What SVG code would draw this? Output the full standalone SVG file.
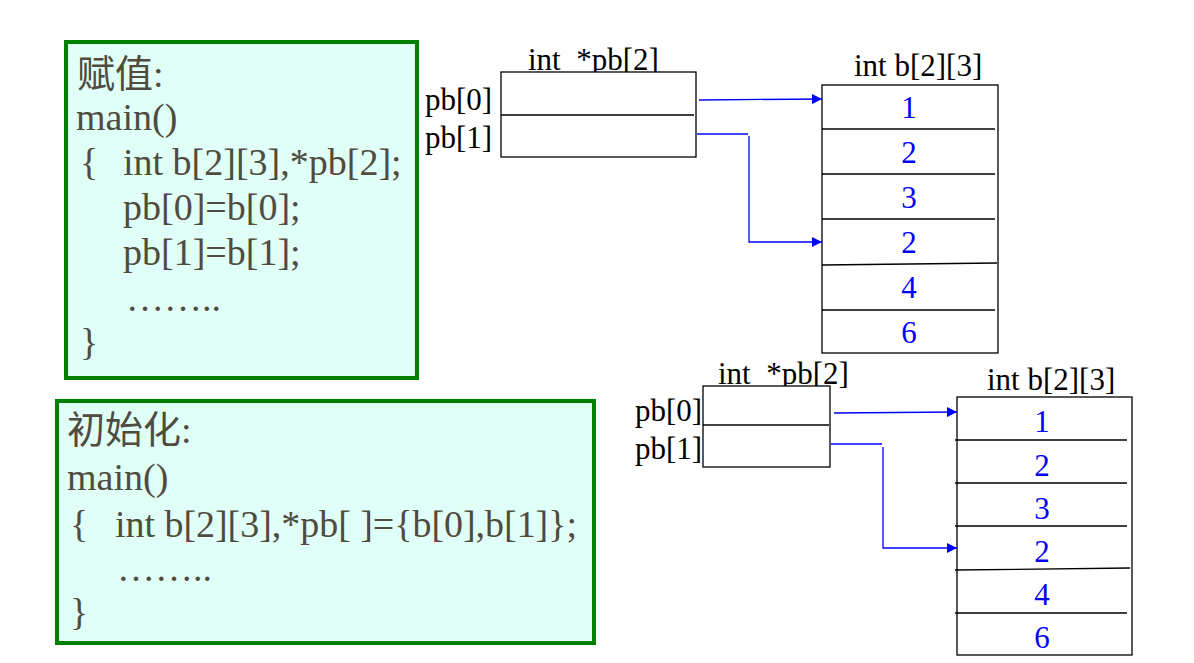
<svg xmlns="http://www.w3.org/2000/svg" width="1194" height="663" viewBox="0 0 1194 663">
<defs>
<style>
.code{font-family:"Liberation Serif","Noto Sans CJK SC",serif;font-size:38px;fill:#4F4B40}
.lbl{font-family:"Liberation Serif",serif;font-size:31px;fill:#000;white-space:pre}
.num{font-family:"Liberation Serif",serif;font-size:31px;fill:#0000FF;text-anchor:middle}
.gbox{fill:#E0FFF6;stroke:#008000;stroke-width:4}
.cell{fill:#fff;stroke:#000;stroke-width:1.3}
.ln{stroke:#000;stroke-width:1.3;fill:none}
.conn{stroke:#0000FF;stroke-width:1.3;fill:none}
</style>
<marker id="ah" viewBox="0 0 10 10" refX="10" refY="5" markerWidth="10" markerHeight="10" markerUnits="userSpaceOnUse" orient="auto">
<path d="M0,0 L10,5 L0,10 z" fill="#0000FF"/>
</marker>
</defs>
<rect width="1194" height="663" fill="#fff"/>

<g id="code-assign">
<rect class="gbox" x="66" y="42" width="351" height="336"/>
<text class="code" x="77" y="87">赋值:</text>
<text class="code" x="76" y="130">main()</text>
<text class="code" x="80" y="175">{</text>
<text class="code" x="123" y="175">int b[2][3],*pb[2];</text>
<text class="code" x="123" y="220">pb[0]=b[0];</text>
<text class="code" x="123" y="265">pb[1]=b[1];</text>
<text class="code" x="126" y="311">……..</text>
<text class="code" x="80" y="355">}</text>
</g>

<g id="code-init">
<rect class="gbox" x="57" y="401" width="537" height="242"/>
<text class="code" x="67" y="443">初始化:</text>
<text class="code" x="67" y="490">main()</text>
<text class="code" x="70" y="537">{</text>
<text class="code" x="115" y="537" textLength="462" lengthAdjust="spacing">int b[2][3],*pb[ ]={b[0],b[1]};</text>
<text class="code" x="117" y="581">……..</text>
<text class="code" x="70" y="625">}</text>
</g>

<g id="pb-top">
<text class="lbl" x="528" y="70" xml:space="preserve">int  *pb[2]</text>
<rect class="cell" x="501" y="72" width="195" height="85"/>
<line class="ln" x1="501" y1="115" x2="694" y2="115"/>
<text class="lbl" x="425" y="110">pb[0]</text>
<text class="lbl" x="425" y="148">pb[1]</text>
</g>

<g id="b-top">
<text class="lbl" x="854" y="76">int b[2][3]</text>
<rect class="cell" x="822" y="85" width="176" height="268"/>
<line class="ln" x1="822" y1="129" x2="995" y2="129"/>
<line class="ln" x1="822" y1="174" x2="995" y2="174"/>
<line class="ln" x1="822" y1="219" x2="995" y2="219"/>
<line class="ln" x1="822" y1="265" x2="997" y2="263"/>
<line class="ln" x1="822" y1="310" x2="995" y2="310"/>
<text class="num" x="909" y="118">1</text>
<text class="num" x="909" y="163">2</text>
<text class="num" x="909" y="208">3</text>
<text class="num" x="909" y="253">2</text>
<text class="num" x="909" y="298">4</text>
<text class="num" x="909" y="343">6</text>
</g>

<g id="pb-bottom">
<text class="lbl" x="718" y="384" xml:space="preserve">int  *pb[2]</text>
<rect class="cell" x="703" y="386" width="127" height="81"/>
<line class="ln" x1="703" y1="425" x2="829" y2="425"/>
<text class="lbl" x="635" y="421">pb[0]</text>
<text class="lbl" x="635" y="459">pb[1]</text>
</g>

<g id="b-bottom">
<text class="lbl" x="987" y="390">int b[2][3]</text>
<rect class="cell" x="957" y="397" width="175" height="258"/>
<line class="ln" x1="955" y1="440" x2="1127" y2="440"/>
<line class="ln" x1="955" y1="483" x2="1127" y2="483"/>
<line class="ln" x1="955" y1="526" x2="1127" y2="526"/>
<line class="ln" x1="955" y1="570" x2="1130" y2="568"/>
<line class="ln" x1="955" y1="613" x2="1127" y2="613"/>
<text class="num" x="1042" y="432">1</text>
<text class="num" x="1042" y="476">2</text>
<text class="num" x="1042" y="519">3</text>
<text class="num" x="1042" y="562">2</text>
<text class="num" x="1042" y="605">4</text>
<text class="num" x="1042" y="648">6</text>
</g>

<g id="connectors">
<line class="conn" x1="699" y1="100" x2="822" y2="99" marker-end="url(#ah)"/>
<line class="conn" x1="697" y1="134" x2="748" y2="134"/>
<polyline class="conn" points="749,136 749,242 822,242" marker-end="url(#ah)"/>
<line class="conn" x1="834" y1="413" x2="957" y2="412" marker-end="url(#ah)"/>
<line class="conn" x1="831" y1="444" x2="882" y2="444"/>
<polyline class="conn" points="883,447 883,548 957,548" marker-end="url(#ah)"/>
</g>
</svg>
